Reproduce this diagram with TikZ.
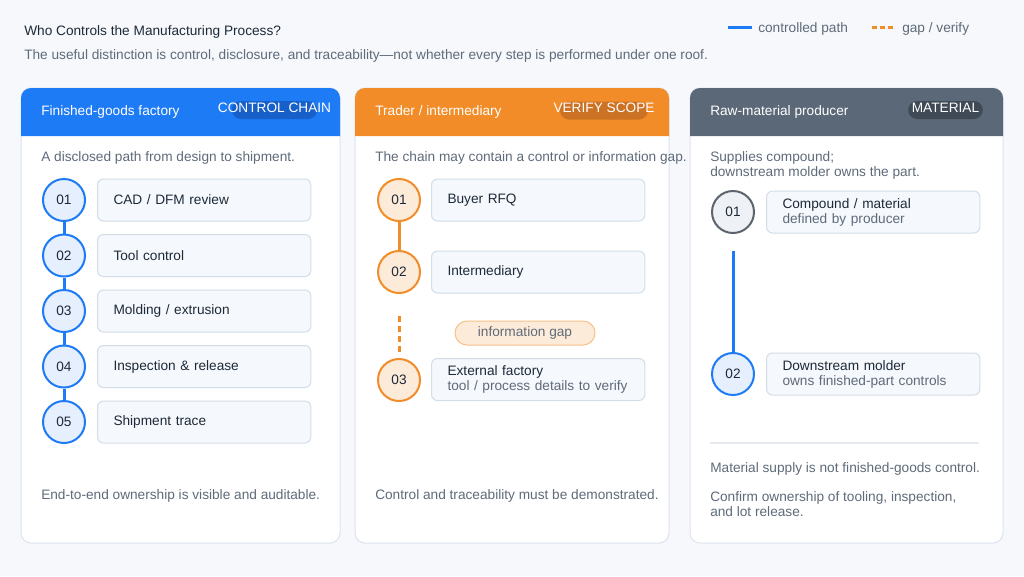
\documentclass[tikz,border=0pt]{standalone}
\usepackage{fontspec}
\setmainfont{Liberation Sans}
\usepackage{xcolor}
\usepackage{tikz}
\usetikzlibrary{positioning}

\definecolor{pagebg}{HTML}{F6F8FB}
\definecolor{cardline}{HTML}{DDE4ED}
\definecolor{ctrlblue}{HTML}{1E7BF6}
\definecolor{gaporange}{HTML}{F28C28}
\definecolor{slate}{HTML}{5B6877}
\definecolor{inkdark}{HTML}{1E2A38}
\definecolor{inkgray}{HTML}{5F6B7A}
\definecolor{boxfill}{HTML}{F5F8FC}
\definecolor{boxline}{HTML}{D3DDE8}
\definecolor{bluesoft}{HTML}{E5EFFD}
\definecolor{orangesoft}{HTML}{FDEBDA}
\definecolor{greysoft}{HTML}{EEF1F5}
\definecolor{greyring}{HTML}{5C646D}
\definecolor{bluepill}{HTML}{1760C9}
\definecolor{orangepill}{HTML}{CC7224}
\definecolor{slatepill}{HTML}{3F4A56}
\definecolor{divider}{HTML}{E6EBF1}

\newcommand{\diagfont}{\fontsize{10.25}{11.25}\selectfont}

\begin{document}
\begin{tikzpicture}[x=0.75pt, y=-0.75pt,
    card/.style={fill=white, draw=cardline, line width=0.75pt, rounded corners=7.5pt},
    hdrtext/.style={anchor=west, text=white, font=\diagfont, inner sep=0pt, yshift=-1pt},
    badge/.style={rounded corners=6.75pt, minimum height=13.5pt, inner sep=0pt},
    badgetext/.style={text=white, font=\diagfont, inner sep=0pt},
    note/.style={anchor=west, text=inkgray, font=\diagfont, inner sep=0pt, align=left, yshift=-1.5pt},
    stepnum/.style={circle, minimum size=31.5pt, inner sep=0pt, line width=1.5pt, text=inkdark, font=\diagfont},
    bluestep/.style={draw=ctrlblue, fill=bluesoft},
    orangestep/.style={draw=gaporange, fill=orangesoft},
    greystep/.style={draw=greyring, fill=greysoft},
    stepbox/.style={draw=boxline, fill=boxfill, rounded corners=4.5pt, anchor=west,
        minimum width=160pt, minimum height=31.5pt, text width=136pt, inner xsep=12pt,
        align=left, text=inkdark, font=\diagfont, line width=0.75pt},
    ctrl/.style={ctrlblue, line width=2.25pt},
    gap/.style={gaporange, line width=2.25pt, dash pattern=on 4.5pt off 3pt},
    gappill/.style={draw=gaporange!55, fill=orangesoft, rounded corners=9pt, minimum width=105pt,
        minimum height=18pt, inner sep=0pt, text=inkgray, font=\diagfont, line width=0.75pt}
]
    \useasboundingbox (0,0) rectangle (1024,576);
    \fill[pagebg] (0,0) rectangle (1024,576);

    % title and legend
    \node[anchor=west, text=inkdark, font=\diagfont, inner sep=0pt, yshift=-1.5pt] (title) at (24,30) {Who Controls the Manufacturing Process?};
    \node[note] (subtitle) at (24,54) {The useful distinction is control, disclosure, and traceability---not whether every step is performed under one roof.};
    \coordinate (lgca) at (728,27);
    \coordinate (lgcb) at (752,27);
    \draw[ctrl] (lgca) -- (lgcb);
    \node[note] (lgctext) at (758,27) {controlled path};
    \coordinate (lgga) at (872,27);
    \coordinate (lggb) at (894,27);
    \draw[gaporange, line width=2.25pt, dash pattern=on 3.75pt off 2.25pt] (lgga) -- (lggb);
    \node[note] (lggtext) at (902,27) {gap / verify};

    % cards
    \draw[card] (21,88) rectangle (340,543);
    \draw[card] (355,88) rectangle (669,543);
    \draw[card] (690,88) rectangle (1003,543);
    \fill[ctrlblue] (21,136) [rounded corners=7.5pt] -- (21,88) -- (340,88) [sharp corners] -- (340,136) -- cycle;
    \fill[gaporange] (355,136) [rounded corners=7.5pt] -- (355,88) -- (669,88) [sharp corners] -- (669,136) -- cycle;
    \fill[slate] (690,136) [rounded corners=7.5pt] -- (690,88) -- (1003,88) [sharp corners] -- (1003,136) -- cycle;

    % headers
    \node[hdrtext] (fhead) at (41,111) {Finished-goods factory};
    \node[badge, fill=bluepill, minimum width=64pt] (fpill) at (274.5,110) {};
    \node[badgetext] (fbadge) at (274.5,108) {CONTROL CHAIN};
    \node[hdrtext] (thead) at (375,111) {Trader / intermediary};
    \node[badge, fill=orangepill, minimum width=66pt] (tpill) at (604,110.5) {};
    \node[badgetext] (tbadge) at (604,108) {VERIFY SCOPE};
    \node[hdrtext] (mhead) at (710,111) {Raw-material producer};
    \node[badge, fill=slatepill, minimum width=56pt] (mpill) at (945.5,110) {};
    \node[badgetext] (mbadge) at (945.5,108) {MATERIAL};

    % finished-goods factory
    \node[note] (fdesc) at (41,156) {A disclosed path from design to shipment.};
    \node[stepnum, bluestep] (f1) at (64,200) {01};
    \node[stepnum, bluestep] (f2) at (64,255.5) {02};
    \node[stepnum, bluestep] (f3) at (64,311) {03};
    \node[stepnum, bluestep] (f4) at (64,366.5) {04};
    \node[stepnum, bluestep] (f5) at (64,422) {05};
    \draw[ctrl] (f1) -- (f2);
    \draw[ctrl] (f2) -- (f3);
    \draw[ctrl] (f3) -- (f4);
    \draw[ctrl] (f4) -- (f5);
    \node[stepbox] (fb1) at (97,200) {CAD / DFM review};
    \node[stepbox] (fb2) at (97,255.5) {Tool control};
    \node[stepbox] (fb3) at (97,311) {Molding / extrusion};
    \node[stepbox] (fb4) at (97,366.5) {Inspection \& release};
    \node[stepbox] (fb5) at (97,422) {Shipment trace};
    \node[note] (ffoot) at (41,494) {End-to-end ownership is visible and auditable.};

    % trader / intermediary
    \node[note] (tdesc) at (375,156) {The chain may contain a control or information gap.};
    \node[stepnum, orangestep] (t1) at (399,200) {01};
    \node[stepnum, orangestep] (t2) at (399,272) {02};
    \node[stepnum, orangestep] (t3) at (399,380) {03};
    \draw[gaporange, line width=2.25pt] (t1) -- (t2);
    \coordinate (gaptop) at (399,316);
    \coordinate (gapbot) at (399,352);
    \draw[gap] (gaptop) -- (gapbot);
    \node[stepbox] (tb1) at (431,200) {Buyer RFQ};
    \node[stepbox] (tb2) at (431,272) {Intermediary};
    \node[gappill] (gapnote) at (525,333) {information gap};
    \node[stepbox] (tb3) at (431,379.5) {External factory\\{\color{inkgray}tool / process details to verify}};
    \node[note] (tfoot) at (375,494) {Control and traceability must be demonstrated.};

    % raw-material producer
    \node[note] (mdesc) at (710,163.5) {Supplies compound;\\downstream molder owns the part.};
    \node[stepnum, greystep] (m1) at (733,212) {01};
    \node[stepnum, bluestep] (m2) at (733,374) {02};
    \coordinate (mtop) at (733,251);
    \draw[ctrl] (mtop) -- (m2);
    \node[stepbox] (mb1) at (766,212) {Compound / material\\{\color{inkgray}defined by producer}};
    \node[stepbox] (mb2) at (766,374) {Downstream molder\\{\color{inkgray}owns finished-part controls}};
    \coordinate (divl) at (710,443);
    \coordinate (divr) at (979,443);
    \draw[divider, line width=0.9pt] (divl) -- (divr);
    \node[note] (mfoot) at (710,467) {Material supply is not finished-goods control.};
    \node[note] (mconfirm) at (710,502.5) {Confirm ownership of tooling, inspection,\\and lot release.};
\end{tikzpicture}
\end{document}
